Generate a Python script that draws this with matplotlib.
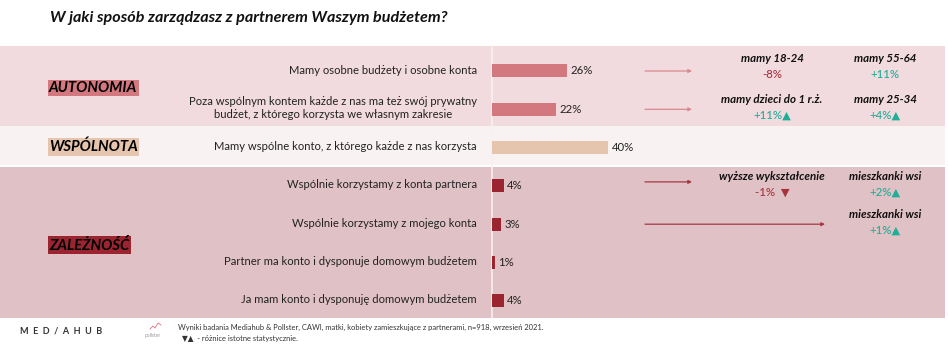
import matplotlib
matplotlib.use("Agg")
import matplotlib.pyplot as plt

plt.rcParams['font.family'] = ['Lato', 'DejaVu Sans']

# ---------------- data ----------------
title = "W jaki sposób zarządzasz z partnerem Waszym budżetem?"
labels = [
    "Mamy osobne budżety i osobne konta",
    "Poza wspólnym kontem każde z nas ma też swój prywatny\nbudżet, z którego korzysta we własnym zakresie",
    "Mamy wspólne konto, z którego każde z nas korzysta",
    "Wspólnie korzystamy z konta partnera",
    "Wspólnie korzystamy z mojego konta",
    "Partner ma konto i dysponuje domowym budżetem",
    "Ja mam konto i dysponuję domowym budżetem",
]
values = [26, 22, 40, 4, 3, 1, 4]
groups = ["AUTONOMIA", "AUTONOMIA", "WSPÓLNOTA", "ZALEŻNOŚĆ", "ZALEŻNOŚĆ", "ZALEŻNOŚĆ", "ZALEŻNOŚĆ"]
group_names = ["AUTONOMIA", "WSPÓLNOTA", "ZALEŻNOŚĆ"]
group_colors = {"AUTONOMIA": "#d47880", "WSPÓLNOTA": "#e6c5ae", "ZALEŻNOŚĆ": "#9a2530"}
band_colors = {"AUTONOMIA": "#f2dbde", "WSPÓLNOTA": "#f8f3f2", "ZALEŻNOŚĆ": "#e0c1c5"}
arrow_colors = {"AUTONOMIA": "#d88890", "ZALEŻNOŚĆ": "#a33845"}

# annotations: (row, column, heading, value, sign)  sign: +1 up, -1 down, 0 none
ann_rows = [0, 0, 1, 1, 3, 3, 4]
ann_cols = [0, 1, 0, 1, 0, 1, 1]
ann_heads = ["mamy 18-24", "mamy 55-64", "mamy dzieci do 1 r.ż.", "mamy 25-34",
             "wyższe wykształcenie", "mieszkanki wsi", "mieszkanki wsi"]
ann_vals = ["-8%", "+11%", "+11%", "+4%", "-1%", "+2%", "+1%"]
ann_sig = [0, 0, 1, 1, -1, 1, 1]

footnote1 = "Wyniki badania Mediahub & Pollster, CAWI, matki, kobiety zamieszkujące z partnerami, n=918, wrzesień 2021."
footnote2 = "▼▲  - różnice istotne statystycznie."

# ---------------- layout ----------------
W, H = 948, 351
fig = plt.figure(figsize=(W / 100, H / 100), dpi=100)
fig.patch.set_facecolor("white")

# pixel overlay axes
bg = fig.add_axes([0, 0, 1, 1], zorder=0)
bg.set_xlim(0, W)
bg.set_ylim(H, 0)
bg.axis("off")

row0, step = 71.0, 38.3
x0, pxper = 492.0, 2.9
rowy = [row0 + step * i for i in range(len(values))]

# bands
bands = {"AUTONOMIA": (46, 126), "WSPÓLNOTA": (126, 165), "ZALEŻNOŚĆ": (167, 318)}
for g, (a, b) in bands.items():
    bg.fill_between([0, 945], a, b, color=band_colors[g], lw=0, zorder=0)
# axis line
bg.plot([x0, x0], [46, 318], color="#f7f0f0", lw=1.2, zorder=1)

# bar axes in data units
ax = fig.add_axes([x0 / W, 0, (W - x0) / W, 1], zorder=1)
ax.patch.set_alpha(0)
ax.set_xlim(0, (W - x0) / pxper)
ax.set_ylim((H - row0) / step, -row0 / step)
ax.axis("off")
ys = list(range(len(values)))
ax.barh(ys, values, height=13 / step, color=[group_colors[g] for g in groups], zorder=2)
for y, v in zip(ys, values):
    ax.annotate(f"{v}%", (v, y), xytext=(2.5, 0), textcoords="offset points",
                va="center", ha="left", fontsize=8.2, color="#222222")

# title
fig.text(50 / W, 1 - 18 / H, title, fontsize=11.6, fontweight="bold", fontstyle="italic",
         color="#111111", va="center", ha="left")

# row labels
for y, lab in zip(rowy, labels):
    bg.text(477, y - 1, lab, ha="right", va="center", fontsize=8.1, color="#222222",
            multialignment="center", linespacing=1.25)

# group labels
group_y = {"AUTONOMIA": 88, "WSPÓLNOTA": 147, "ZALEŻNOŚĆ": 245}
for g in group_names:
    bg.text(49, group_y[g], g, ha="left", va="center", fontsize=10.7, fontweight="bold",
            fontstyle="italic", color="black",
            bbox=dict(boxstyle="square,pad=0.1", fc=group_colors[g], ec="none"))

# arrows
col_x = [772, 885]
arrow_end = {0: 692, 1: 692, 3: 692, 4: 825}
for r, xe in arrow_end.items():
    yy = rowy[r] - (4 if r == 3 else 0)
    c = arrow_colors[groups[r]]
    bg.annotate("", xy=(xe, yy), xytext=(645, yy),
                arrowprops=dict(arrowstyle="-|>", color=c, lw=0.9, mutation_scale=5,
                                shrinkA=0, shrinkB=0))

# annotations
teal = "#1fae98"
red = "#a8323e"
row_shift = {0: -2.0, 1: 0.5, 3: 1.0, 4: 0.0}
for r, c, h, v, s in zip(ann_rows, ann_cols, ann_heads, ann_vals, ann_sig):
    yy = rowy[r] + row_shift[r]
    bg.text(col_x[c], yy - 10, h, ha="center", va="center", fontsize=8.3,
            fontweight="bold", fontstyle="italic", color="#111111")
    vc = teal if v.startswith("+") else red
    if s == 1:
        txt = v + "▲"
    elif s == -1:
        txt = v + "  ▼"
    else:
        txt = v
    bg.text(col_x[c], yy + 5.5, txt, ha="center", va="center", fontsize=8.2,
            color=vc, fontweight="medium")

# footer
bg.text(20, 331, "M  E  D  /  A  H  U  B", ha="left", va="center", fontsize=6.5,
        fontweight="bold", color="#333333")
bg.text(145, 335, "pollster", ha="left", va="center", fontsize=3.5, color="#999999")
bg.plot([150, 153, 155, 158, 161], [329, 326, 328, 323, 325], color="#e07080", lw=0.6)
bg.text(178, 327, footnote1, ha="left", va="center", fontsize=5.45, color="#333333")
bg.text(182, 339, footnote2, ha="left", va="center", fontsize=5.45, color="#333333")

fig.savefig("out.png", dpi=100)
